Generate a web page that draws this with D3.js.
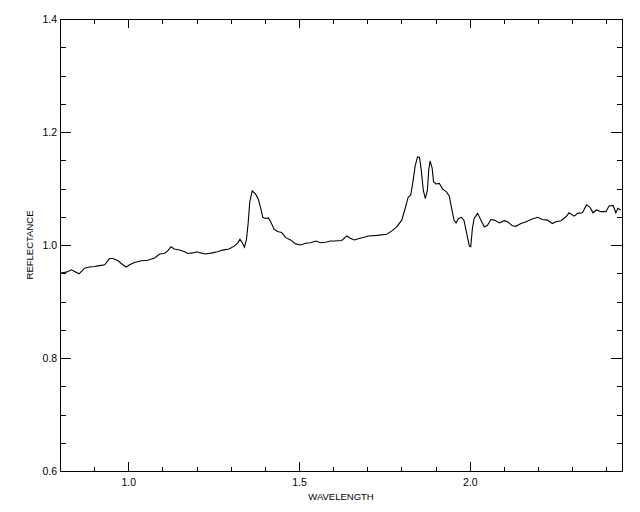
<!DOCTYPE html>
<html>
<head>
<meta charset="utf-8">
<script src="https://cdn.jsdelivr.net/npm/d3@7"></script>
<style>
  body { margin: 0; background: #fff; }
  text { font-family: "Liberation Sans", Arial, sans-serif; fill: #000; }
</style>
</head>
<body>
<div id="chart"></div>
<script>
// spectrum
var wavelength = [0.804,0.818,0.823,0.833,0.843,0.856,0.862,0.872,0.887,0.901,0.911,0.921,0.931,0.945,0.955,0.970,0.984,0.994,1.004,1.018,
  1.038,1.057,1.077,1.092,1.106,1.116,1.125,1.135,1.150,1.165,1.174,1.189,1.201,1.212,1.227,1.246,1.261,1.276,1.295,1.310,
  1.320,1.327,1.334,1.340,1.346,1.351,1.356,1.363,1.373,1.381,1.388,1.394,1.402,1.410,1.417,1.427,1.437,1.449,1.461,1.475,
  1.490,1.505,1.519,1.534,1.549,1.563,1.578,1.592,1.605,1.625,1.640,1.650,1.662,1.679,1.694,1.703,1.728,1.757,1.772,1.786,
  1.801,1.811,1.820,1.827,1.833,1.840,1.847,1.853,1.858,1.864,1.870,1.876,1.880,1.884,1.890,1.894,1.901,1.911,1.921,1.932,
  1.940,1.947,1.954,1.960,1.967,1.976,1.983,1.991,1.999,2.003,2.008,2.013,2.023,2.033,2.043,2.052,2.062,2.072,2.087,2.101,
  2.111,2.125,2.135,2.150,2.165,2.179,2.199,2.213,2.228,2.242,2.252,2.267,2.282,2.291,2.306,2.316,2.330,2.342,2.352,2.361,
  2.371,2.384,2.399,2.408,2.420,2.428,2.434,2.442];
var reflectance = [0.951,0.952,0.953,0.956,0.953,0.949,0.953,0.959,0.961,0.962,0.963,0.964,0.965,0.976,0.976,0.972,0.965,0.961,0.965,0.969,
  0.972,0.973,0.977,0.984,0.985,0.990,0.997,0.993,0.991,0.988,0.985,0.986,0.988,0.986,0.984,0.986,0.988,0.991,0.993,0.998,
  1.003,1.010,1.004,0.996,1.009,1.038,1.077,1.096,1.090,1.081,1.065,1.049,1.047,1.048,1.041,1.028,1.024,1.022,1.013,1.009,
  1.002,1.000,1.003,1.004,1.007,1.004,1.005,1.007,1.007,1.008,1.016,1.012,1.009,1.012,1.014,1.016,1.017,1.019,1.025,1.032,
  1.044,1.065,1.085,1.088,1.109,1.139,1.156,1.155,1.133,1.097,1.082,1.097,1.133,1.149,1.136,1.112,1.108,1.109,1.099,1.094,
  1.087,1.065,1.044,1.039,1.047,1.049,1.044,1.021,0.998,0.997,1.030,1.047,1.056,1.044,1.032,1.035,1.045,1.044,1.039,1.043,
  1.041,1.034,1.033,1.038,1.041,1.045,1.049,1.045,1.044,1.038,1.041,1.043,1.050,1.057,1.051,1.056,1.057,1.071,1.067,1.057,
  1.062,1.059,1.059,1.069,1.070,1.057,1.065,1.062];

var xMajor = [1.0, 1.5, 2.0];
var xMinor = [0.9, 1.1, 1.2, 1.3, 1.4, 1.6, 1.7, 1.8, 1.9, 2.1, 2.2, 2.3, 2.4];
var yMajor = [0.6, 0.8, 1.0, 1.2, 1.4];
var yMinor = [0.65, 0.7, 0.75, 0.85, 0.9, 0.95, 1.05, 1.1, 1.15, 1.25, 1.3, 1.35];

var svgWidth = 640;
var svgHeight = 512;
var margin = { top: 19, right: 18, bottom: 41, left: 60 };
var chartWidth = svgWidth - margin.left - margin.right;
var chartHeight = svgHeight - margin.top - margin.bottom;

var svg = d3.select("#chart")
  .append("svg")
  .attr("width", svgWidth)
  .attr("height", svgHeight);

var chartGroup = svg.append("g")
  .attr("transform", `translate(${margin.left}, ${margin.top})`);

var xScale = d3.scaleLinear().domain([0.8, 2.446]).range([0, chartWidth]);
var yScale = d3.scaleLinear().domain([0.6, 1.4]).range([chartHeight, 0]);

var xTick = 9, yTick = 11;

// helper to draw an axis with inward ticks
function drawAxis(axisFn, scale, values, size, transform, pad) {
  var g = chartGroup.append("g")
    .attr("transform", transform)
    .call(axisFn(scale).tickValues(values).tickSize(-size).tickPadding(pad || 0)
      .tickFormat(pad ? d3.format(".1f") : ""));
  g.select(".domain").attr("stroke", "#000").attr("shape-rendering", "crispEdges");
  g.selectAll(".tick line").attr("stroke", "#000").attr("shape-rendering", "crispEdges");
  g.selectAll("text").attr("font-size", 10.5).attr("fill", "#000");
  return g;
}

// bottom / top
drawAxis(d3.axisBottom, xScale, xMajor, xTick, `translate(0, ${chartHeight})`, 8);
drawAxis(d3.axisBottom, xScale, xMinor, xTick / 2, `translate(0, ${chartHeight})`).select(".domain").remove();
drawAxis(d3.axisTop, xScale, xMajor, xTick, "translate(0, 0)");
drawAxis(d3.axisTop, xScale, xMinor, xTick / 2, "translate(0, 0)").select(".domain").remove();

// left / right
drawAxis(d3.axisLeft, yScale, yMajor, yTick, "translate(0, 0)", 3);
drawAxis(d3.axisLeft, yScale, yMinor, yTick / 2, "translate(0, 0)").select(".domain").remove();
drawAxis(d3.axisRight, yScale, yMajor, yTick, `translate(${chartWidth}, 0)`);
drawAxis(d3.axisRight, yScale, yMinor, yTick / 2, `translate(${chartWidth}, 0)`).select(".domain").remove();

// spectrum line
var line = d3.line()
  .x((d, i) => xScale(wavelength[i]))
  .y(d => yScale(d));

chartGroup.append("path")
  .datum(reflectance)
  .attr("fill", "none")
  .attr("stroke", "#000")
  .attr("stroke-width", 1.1)
  .attr("d", line);

// axis titles
chartGroup.append("text")
  .attr("x", chartWidth / 2)
  .attr("y", chartHeight + 29)
  .attr("text-anchor", "middle")
  .attr("font-size", 9.5)
  .text("WAVELENGTH");

chartGroup.append("text")
  .attr("transform", `translate(-27, ${chartHeight / 2}) rotate(-90)`)
  .attr("text-anchor", "middle")
  .attr("font-size", 9.5)
  .text("REFLECTANCE");
</script>
</body>
</html>
